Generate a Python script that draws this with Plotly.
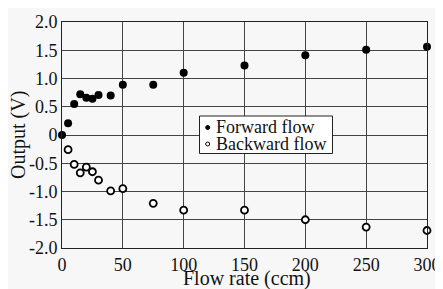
import plotly.graph_objects as go

fwd_x = [0, 5, 10, 15, 20, 25, 30, 40, 50, 75, 100, 150, 200, 250, 300]
fwd_y = [0.0, 0.21, 0.55, 0.72, 0.66, 0.64, 0.71, 0.70, 0.89, 0.89, 1.10, 1.23, 1.41, 1.51, 1.56]
bwd_x = [5, 10, 15, 20, 25, 30, 40, 50, 75, 100, 150, 200, 250, 300]
bwd_y = [-0.26, -0.52, -0.67, -0.57, -0.65, -0.80, -0.99, -0.95, -1.21, -1.33, -1.33, -1.50, -1.63, -1.69]

x_ticks = [0, 50, 100, 150, 200, 250, 300]
y_ticks = [2.0, 1.5, 1.0, 0.5, 0.0, -0.5, -1.0, -1.5, -2.0]
y_labels = ["2.0", "1.5", "1.0", "0.5", "0", "-0.5", "-1.0", "-1.5", "-2.0"]

FONT = "Liberation Serif"
BG = "#f7f7f7"
GRID = "#444444"

OFF = 8  # page body margin
W, H = 435, 281
L, R, T, B = 54, 16, 14, 41
PW, PH = W - L - R, H - T - B

def px(xp):
    return (xp - OFF - L) / PW

def py(yp):
    return (H - B - (yp - OFF)) / PH

fig = go.Figure()
fig.add_trace(go.Scatter(x=fwd_x, y=fwd_y, mode="markers", name="Forward flow",
                         marker=dict(color="black", size=8), showlegend=False, cliponaxis=False))
fig.add_trace(go.Scatter(x=bwd_x, y=bwd_y, mode="markers", name="Backward flow",
                         marker=dict(color="white", size=7, line=dict(color="black", width=1.8)),
                         showlegend=False, cliponaxis=False))

shapes = [
    dict(type="rect", xref="paper", yref="paper", x0=px(199.5), x1=px(332.5), y0=py(153.5), y1=py(116),
         fillcolor="white", line=dict(color="#222222", width=1), layer="above"),
    dict(type="circle", xref="paper", yref="paper", x0=px(205.7), x1=px(209.7), y0=py(129.5), y1=py(125.5),
         fillcolor="black", line=dict(color="black", width=1), layer="above"),
    dict(type="circle", xref="paper", yref="paper", x0=px(205.7), x1=px(209.7), y0=py(146), y1=py(142),
         fillcolor="white", line=dict(color="black", width=1), layer="above"),
]

annotations = [
    dict(xref="paper", yref="paper", x=px(214), y=py(126.5), xanchor="left", yanchor="middle",
         text="Forward flow", showarrow=False, font=dict(family=FONT, size=18)),
    dict(xref="paper", yref="paper", x=px(214), y=py(143.5), xanchor="left", yanchor="middle",
         text="Backward flow", showarrow=False, font=dict(family=FONT, size=18)),
    dict(xref="paper", yref="paper", x=px(247), y=py(278), xanchor="center", yanchor="middle",
         text="Flow rate (ccm)", showarrow=False, font=dict(family=FONT, size=20)),
    dict(xref="paper", yref="paper", x=px(18), y=py(135), xanchor="center", yanchor="middle",
         text="Output (V)", textangle=-90, showarrow=False, font=dict(family=FONT, size=20)),
]

fig.update_layout(
    width=W, height=H,
    margin=dict(l=L, r=R, t=T, b=B, autoexpand=False),
    paper_bgcolor=BG, plot_bgcolor=BG,
    font=dict(family=FONT, color="#111111"),
    shapes=shapes, annotations=annotations,
    showlegend=False,
)
fig.update_xaxes(range=[0, 300], tickvals=x_ticks, ticktext=[str(v) for v in x_ticks],
                 showgrid=True, gridcolor=GRID, gridwidth=1, zeroline=False,
                 showline=True, mirror=True, linecolor="#222", linewidth=1,
                 ticks="", automargin=False,
                 tickfont=dict(family=FONT, size=18))
fig.update_yaxes(range=[-2, 2], tickvals=y_ticks, ticktext=y_labels,
                 showgrid=True, gridcolor=GRID, gridwidth=1, zeroline=False,
                 showline=True, mirror=True, linecolor="#222", linewidth=1,
                 ticks="", automargin=False,
                 tickfont=dict(family=FONT, size=18))

fig.write_html("out.html")
